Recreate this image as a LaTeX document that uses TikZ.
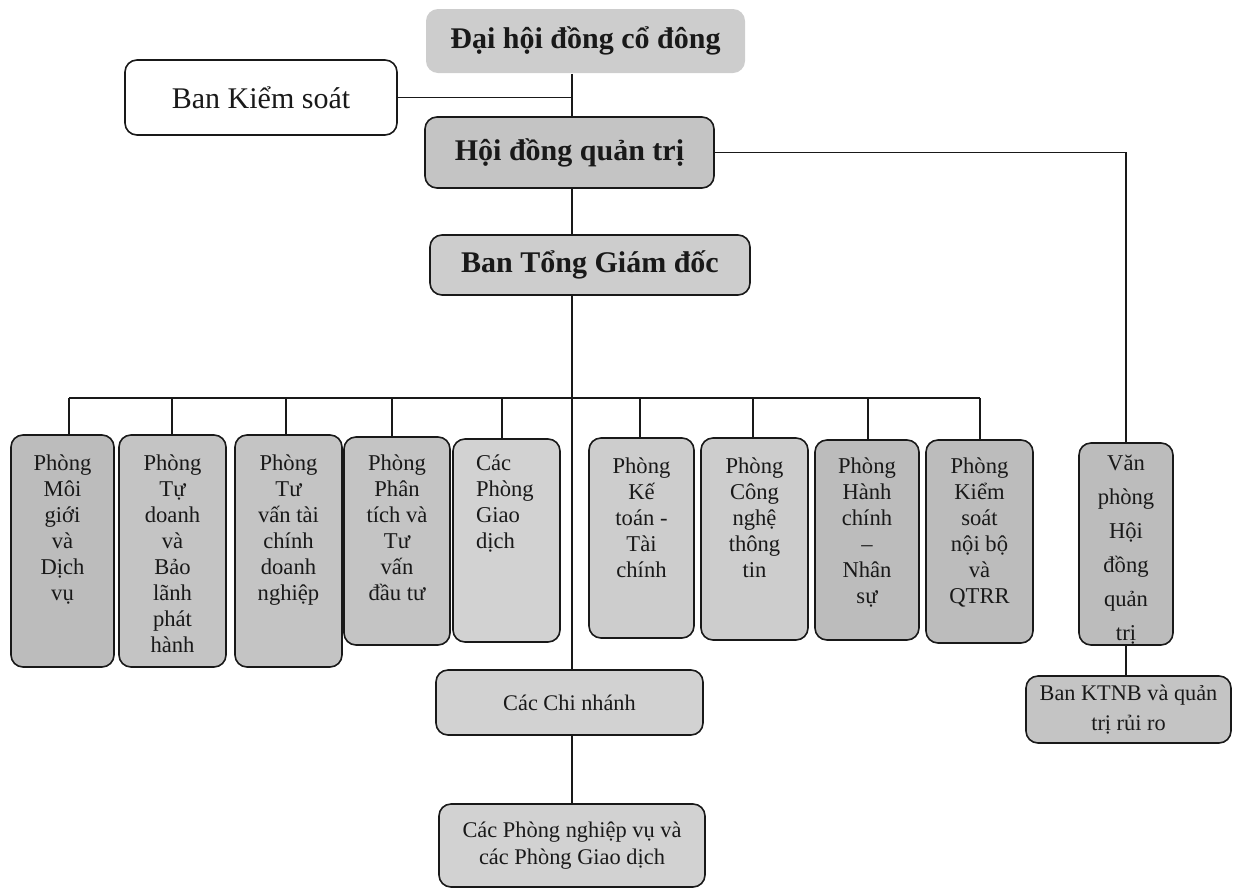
\documentclass[tikz,border=0pt]{standalone}
\usepackage{fontspec}
\setmainfont{Liberation Serif}
\definecolor{ink}{RGB}{25,25,25}
\definecolor{gA}{RGB}{205,205,205}
\definecolor{gB}{RGB}{196,196,196}
\definecolor{gC}{RGB}{188,188,188}
\definecolor{gD}{RGB}{210,210,210}
\newcommand{\colbody}[4]{\parbox[c][#2][t]{#1}{\centering\fontsize{22.6}{26}\selectfont\rule{0pt}{#3}#4}}
\newcommand{\colbodyL}[4]{\parbox[c][#2][t]{#1}{\raggedright\leftskip=23pt\fontsize{22.6}{26}\selectfont\rule{0pt}{#3}#4}}
\begin{document}
\begin{tikzpicture}[x=1pt,y=-1pt,
  box/.style={draw=ink, line width=1.6pt, rounded corners=12pt, inner sep=0pt, text=ink},
  topbox/.style={box, font=\fontsize{30}{34}\selectfont\bfseries},
  conn/.style={draw=ink, line width=1.3pt}]
\useasboundingbox (0,0) rectangle (1234,887);
% top level
\node[box, draw=none, fill=gA, font=\fontsize{30}{34}\selectfont\bfseries, minimum width=319pt, minimum height=64pt] (dh) at (585.5,41) {Đại hội đồng cổ đông};
\node[box, fill=white, font=\fontsize{30}{34}\selectfont, minimum width=272pt, minimum height=75pt] (bks) at (261,97.5) {Ban Kiểm soát};
\node[topbox, fill=gB, minimum width=289pt, minimum height=71pt] (hd) at (569.5,152.5) {Hội đồng quản trị};
\node[topbox, fill=gA, minimum width=320pt, minimum height=60pt] (tgd) at (590,265) {Ban Tổng Giám đốc};
\coordinate (tk) at (572,0);
% left column boxes
\node[box, fill=gC] (b1) at (62.5,551) {\colbody{103pt}{232pt}{35pt}{Phòng\\Môi\\giới\\và\\Dịch\\vụ}};
\node[box, fill=gB] (b2) at (172.5,551) {\colbody{107pt}{232pt}{35pt}{Phòng\\Tự\\doanh\\và\\Bảo\\lãnh\\phát\\hành}};
\node[box, fill=gB] (b3) at (288.5,551) {\colbody{107pt}{232pt}{35pt}{Phòng\\Tư\\vấn tài\\chính\\doanh\\nghiệp}};
\node[box, fill=gB] (b4) at (397,541) {\colbody{106pt}{208pt}{33pt}{Phòng\\Phân\\tích và\\Tư\\vấn\\đầu tư}};
\node[box, fill=gD] (b5) at (506.5,540.5) {\colbodyL{107pt}{203pt}{31pt}{Các\\Phòng\\Giao\\dịch}};
% right column boxes
\node[box, fill=gA] (b6) at (641.5,538) {\colbody{105pt}{200pt}{35pt}{Phòng\\Kế\\toán -\\Tài\\chính}};
\node[box, fill=gA] (b7) at (754.5,539) {\colbody{107pt}{202pt}{35pt}{Phòng\\Công\\nghệ\\thông\\tin}};
\node[box, fill=gC] (b8) at (867,540) {\colbody{104pt}{200pt}{33pt}{Phòng\\Hành\\chính\\–\\Nhân\\sự}};
\node[box, fill=gC] (b9) at (979.5,541.5) {\colbody{107pt}{203pt}{33pt}{Phòng\\Kiểm\\soát\\nội bộ\\và\\QTRR}};
% right branch
\node[box, fill=gC] (vp) at (1126,544) {\parbox[c][202pt][t]{94pt}{\centering\fontsize{22.6}{34}\selectfont\rule{0pt}{27pt}Văn\\phòng\\Hội\\đồng\\quản\\trị}};
\node[box, fill=gB, align=center, font=\fontsize{22.3}{30}\selectfont, minimum width=205pt, minimum height=67pt] (kt) at (1128.5,709.5) {Ban KTNB và quản\\trị rủi ro};
% bottom branch
\node[box, fill=gD, font=\fontsize{22.3}{27}\selectfont, minimum width=267pt, minimum height=65pt] (cn) at (569.5,702.5) {Các Chi nhánh};
\node[box, fill=gD, align=center, font=\fontsize{22.4}{27}\selectfont, minimum width=266pt, minimum height=83pt] (bt) at (572,845.5) {Các Phòng nghiệp vụ và\\các Phòng Giao dịch};
% connectors
\draw[conn] (dh.south -| tk) -- (hd.north -| tk);
\draw[conn] (bks.east) -- (bks.east -| tk);
\draw[conn] (hd.east) -- (hd.east -| vp.north) -- (vp.north);
\draw[conn] (hd.south -| tk) -- (tgd.north -| tk);
\draw[conn] (tgd.south -| tk) -- (cn.north -| tk);
\draw[conn] (cn.south -| tk) -- (bt.north -| tk);
\draw[conn] (vp.south) -- (vp.south |- kt.north);
% bus
\coordinate (s1) at (69,398);
\coordinate (s2) at (172,398);
\coordinate (s3) at (286,398);
\coordinate (s4) at (392,398);
\coordinate (s5) at (502,398);
\coordinate (s6) at (640,398);
\coordinate (s7) at (753,398);
\coordinate (s8) at (868,398);
\coordinate (s9) at (980,398);
\draw[conn] (s1) -- (s9);
\foreach \s/\b in {s1/b1,s2/b2,s3/b3,s4/b4,s5/b5,s6/b6,s7/b7,s8/b8,s9/b9}
  \draw[conn] (\s) -- (\s |- \b.north);
\end{tikzpicture}
\end{document}
